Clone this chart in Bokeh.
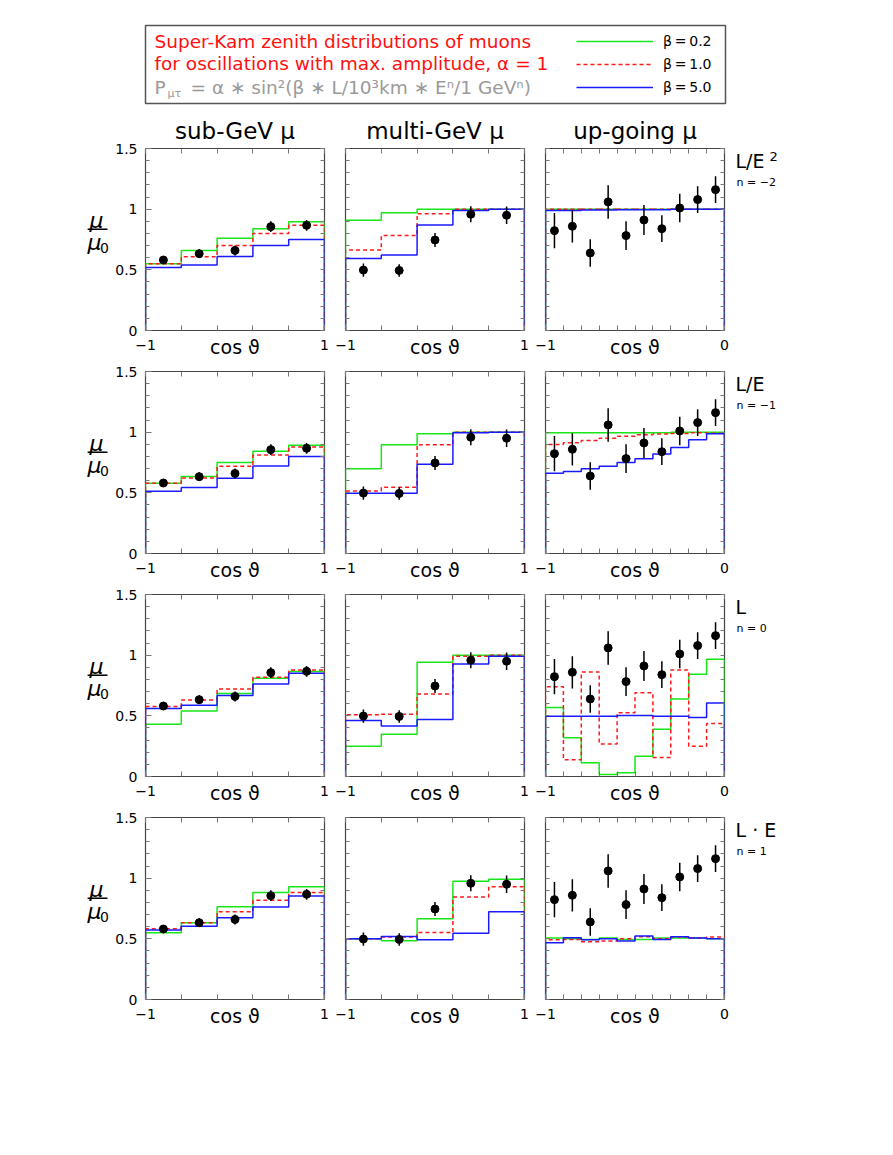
from bokeh.plotting import figure
from bokeh.models import Range1d, FixedTicker, LinearAxis, Label, Legend, LegendItem
from bokeh.layouts import column, row
from bokeh.embed import file_html
from bokeh.resources import INLINE

FONT = "DejaVu Sans"
GREEN = "#19e619"
RED = "#ff1a1a"
BLUE = "#1a1aff"
FRAME = "#444444"
TICK = "#777777"

# ---------------- data ----------------
column_titles = ["sub-GeV μ", "multi-GeV μ", "up-going μ"]
row_labels = ["L/E", "L/E", "L", "L · E"]
row_label_sup = ["2", "", "", ""]
n_labels = ["n = −2", "n = −1", "n = 0", "n = 1"]
legend_labels = ["β\u2009=\u20090.2", "β\u2009=\u20091.0", "β\u2009=\u20095.0"]

edges_5 = [-1.0, -0.6, -0.2, 0.2, 0.6, 1.0]
edges_10 = [-1.0, -0.9, -0.8, -0.7, -0.6, -0.5, -0.4, -0.3, -0.2, -0.1, 0.0]

# measured points (same in every row)
sub_x = [-0.8, -0.4, 0.0, 0.4, 0.8]
sub_y = [0.581, 0.633, 0.660, 0.856, 0.867]
sub_err = [0.031, 0.036, 0.041, 0.045, 0.044]

multi_x = [-0.8, -0.4, 0.0, 0.4, 0.8]
multi_y = [0.498, 0.495, 0.746, 0.958, 0.950]
multi_err = [0.055, 0.052, 0.058, 0.066, 0.073]

up_x = [-0.95, -0.85, -0.75, -0.65, -0.55, -0.45, -0.35, -0.25, -0.15, -0.05]
up_y = [0.823, 0.859, 0.639, 1.060, 0.782, 0.911, 0.839, 1.010, 1.079, 1.161]
up_err = [0.145, 0.133, 0.113, 0.138, 0.118, 0.124, 0.110, 0.117, 0.110, 0.110]

# model histograms, one list per row (n = -2, -1, 0, 1)
sub_green = [[0.550, 0.660, 0.760, 0.839, 0.897],
             [0.580, 0.634, 0.751, 0.842, 0.893],
             [0.431, 0.539, 0.685, 0.809, 0.865],
             [0.550, 0.633, 0.765, 0.881, 0.930]]
sub_red = [[0.550, 0.608, 0.700, 0.800, 0.867],
           [0.579, 0.623, 0.719, 0.811, 0.877],
           [0.577, 0.630, 0.721, 0.818, 0.878],
           [0.583, 0.633, 0.724, 0.817, 0.881]]
sub_blue = [[0.520, 0.540, 0.610, 0.700, 0.751],
            [0.514, 0.544, 0.620, 0.721, 0.800],
            [0.561, 0.588, 0.668, 0.762, 0.851],
            [0.572, 0.603, 0.674, 0.762, 0.853]]

multi_green = [[0.908, 0.971, 0.999, 1.000, 1.000],
               [0.698, 0.896, 0.986, 1.000, 1.000],
               [0.249, 0.348, 0.942, 1.000, 1.000],
               [0.501, 0.484, 0.666, 0.974, 0.991]]
multi_red = [[0.663, 0.782, 0.963, 1.000, 1.000],
             [0.516, 0.547, 0.896, 1.000, 1.000],
             [0.508, 0.514, 0.680, 0.992, 1.000],
             [0.500, 0.515, 0.553, 0.845, 0.930]]
multi_blue = [[0.594, 0.622, 0.870, 0.990, 1.000],
              [0.497, 0.497, 0.736, 0.995, 1.000],
              [0.461, 0.417, 0.470, 0.928, 0.992],
              [0.500, 0.520, 0.493, 0.545, 0.724]]

up_green = [[1.000, 1.000, 1.000, 1.000, 1.000, 1.000, 1.000, 1.000, 1.000, 1.000],
            [0.995, 0.995, 0.995, 0.995, 0.995, 0.995, 0.995, 1.000, 1.000, 1.000],
            [0.569, 0.320, 0.113, 0.017, 0.030, 0.166, 0.390, 0.638, 0.843, 0.967],
            [0.506, 0.500, 0.495, 0.506, 0.495, 0.495, 0.506, 0.506, 0.506, 0.500]]
up_red = [[1.000, 1.000, 1.000, 1.000, 1.000, 1.000, 1.000, 1.000, 1.000, 1.000],
          [0.898, 0.912, 0.931, 0.950, 0.967, 0.978, 0.984, 0.989, 0.995, 0.992],
          [0.740, 0.138, 0.862, 0.268, 0.525, 0.691, 0.157, 0.878, 0.249, 0.436],
          [0.493, 0.495, 0.476, 0.482, 0.500, 0.517, 0.500, 0.515, 0.506, 0.515]]
up_blue = [[0.988, 0.988, 0.993, 0.993, 0.995, 0.995, 0.996, 1.000, 1.000, 1.000],
           [0.662, 0.676, 0.698, 0.720, 0.750, 0.780, 0.821, 0.874, 0.937, 0.986],
           [0.497, 0.497, 0.497, 0.497, 0.502, 0.502, 0.497, 0.497, 0.486, 0.605],
           [0.468, 0.509, 0.493, 0.501, 0.482, 0.523, 0.495, 0.517, 0.506, 0.500]]

y_major = [0.0, 0.5, 1.0, 1.5]
y_minor = [0.0, 0.1, 0.2, 0.3, 0.4, 0.5, 0.6, 0.7, 0.8, 0.9, 1.0, 1.1, 1.2, 1.3, 1.4, 1.5]

FRAME_W, FRAME_H = 179, 182
LEFT_W, RIGHT_W = 110, 60


def hist_path(edges, vals):
    xs, ys = [edges[0]], [0.0]
    for i, v in enumerate(vals):
        xs += [edges[i], edges[i + 1]]
        ys += [v, v]
    xs.append(edges[-1])
    ys.append(0.0)
    return xs, ys


def style_axis(ax, tick_in, minor_in):
    ax.axis_line_color = None
    ax.major_tick_out = 0
    ax.minor_tick_out = 0
    ax.major_tick_in = tick_in
    ax.minor_tick_in = minor_in
    ax.major_tick_line_color = TICK
    ax.minor_tick_line_color = TICK
    ax.major_label_text_font = FONT
    ax.major_label_text_font_size = "14px"
    ax.major_label_text_color = "black"
    ax.axis_label_text_font = FONT
    ax.axis_label_text_font_style = "normal"
    ax.axis_label_text_color = "black"


def lab(p, x, y, text, size, dx=0, dy=0, align="center", baseline="middle", style="normal",
        color="black"):
    p.add_layout(Label(x=x, y=y, x_offset=dx, y_offset=dy, text=text, text_align=align,
                       text_baseline=baseline, text_font=FONT, text_font_size=size,
                       text_font_style=style, text_color=color))


def blank_fig(width, ri, xmax):
    f = figure(frame_width=width, frame_height=FRAME_H,
               x_range=Range1d(0, xmax), y_range=Range1d(0.0, 1.5),
               output_backend="svg", toolbar_location=None, title=None,
               x_axis_location=None, y_axis_location=None,
               min_border_left=0, min_border_right=0,
               min_border_top=40 if ri == 0 else 6, min_border_bottom=35,
               background_fill_color="white", border_fill_color="white",
               outline_line_color=None)
    for g in f.grid:
        g.visible = False
    return f


def left_label_fig(ri):
    f = blank_fig(LEFT_W, ri, LEFT_W)
    lab(f, 96, 0.75, "μ", "22px", dy=19, baseline="alphabetic", style="italic")
    lab(f, 97, 0.75, "—", "22px", dy=12)
    lab(f, 94, 0.75, "μ", "22px", dy=-3, baseline="alphabetic", style="italic")
    lab(f, 104, 0.75, "0", "14px", dy=-8, baseline="alphabetic")
    return f


def right_label_fig(ri):
    f = blank_fig(RIGHT_W, ri, RIGHT_W)
    lab(f, 6, 1.5, row_labels[ri], "19px", dy=-12, align="left")
    if row_label_sup[ri]:
        lab(f, 40, 1.5, row_label_sup[ri], "13px", dy=-8, align="left")
    lab(f, 7, 1.5, n_labels[ri], "11px", dy=-34, align="left")
    return f


def make_panel(ci, ri):
    xmax = 0.0 if ci == 2 else 1.0
    edges = edges_10 if ci == 2 else edges_5
    p = figure(frame_width=FRAME_W, frame_height=FRAME_H,
               x_range=Range1d(-1.0, xmax), y_range=Range1d(0.0, 1.5),
               output_backend="svg", toolbar_location=None, title=None,
               x_axis_location=None, y_axis_location=None,
               min_border_left=[35, 16, 16][ci], min_border_right=5,
               min_border_top=40 if ri == 0 else 6, min_border_bottom=35,
               background_fill_color="white", border_fill_color="white",
               outline_line_color=FRAME, outline_line_width=1.2)
    for g in p.grid:
        g.visible = False

    # bottom axis: end labels + "cos ϑ"
    xb = LinearAxis(ticker=FixedTicker(ticks=[-1.0, xmax], minor_ticks=edges),
                    major_label_overrides={-1.0: "−1", xmax: ("0" if ci == 2 else "1")},
                    axis_label="cos ϑ")
    style_axis(xb, 5, 5)
    xb.major_label_standoff = 9
    xb.axis_label_text_font_size = "19px"
    xb.axis_label_standoff = -17
    # top axis: ticks only (column title on first row)
    xa = LinearAxis(ticker=FixedTicker(ticks=[], minor_ticks=edges))
    style_axis(xa, 5, 5)
    if ri == 0:
        xa.axis_label = column_titles[ci]
        xa.axis_label_text_font_size = "23px"
        xa.axis_label_standoff = 5
    # left axis
    if ci == 0:
        yl = LinearAxis(ticker=FixedTicker(ticks=y_major, minor_ticks=y_minor),
                        major_label_overrides={0.0: "0", 0.5: "0.5", 1.0: "1", 1.5: "1.5"})
        style_axis(yl, 6, 4)
        yl.major_label_standoff = 8
    else:
        yl = LinearAxis(ticker=FixedTicker(ticks=[], minor_ticks=y_minor))
        style_axis(yl, 6, 4)
    yr = LinearAxis(ticker=FixedTicker(ticks=[], minor_ticks=y_minor))
    style_axis(yr, 6, 4)
    p.add_layout(xb, "below")
    p.add_layout(xa, "above")
    p.add_layout(yl, "left")
    p.add_layout(yr, "right")

    g = [sub_green, multi_green, up_green][ci][ri]
    r = [sub_red, multi_red, up_red][ci][ri]
    b = [sub_blue, multi_blue, up_blue][ci][ri]
    for vals, color, dash in ((g, GREEN, "solid"), (r, RED, "4 3"), (b, BLUE, "solid")):
        xs, ys = hist_path(edges, vals)
        p.line(xs, ys, line_color=color, line_width=1.5, line_dash=dash)

    px = [sub_x, multi_x, up_x][ci]
    py = [sub_y, multi_y, up_y][ci]
    pe = [sub_err, multi_err, up_err][ci]
    p.segment(x0=px, y0=[y - e for y, e in zip(py, pe)], x1=px, y1=[y + e for y, e in zip(py, pe)],
              line_color="black", line_width=1.5)
    p.scatter(px, py, size=8, color="black")
    return p


# ---------------- header box ----------------
TOTAL_W = LEFT_W + (35 + FRAME_W + 5) + 2 * (16 + FRAME_W + 5) + RIGHT_W
hdr = figure(frame_width=580, frame_height=78, x_range=Range1d(0, 580), y_range=Range1d(0, 78),
             output_backend="svg", toolbar_location=None, title=None,
             x_axis_location=None, y_axis_location=None,
             min_border_left=145, min_border_right=TOTAL_W - 145 - 580,
             min_border_top=25, min_border_bottom=5,
             background_fill_color="white", border_fill_color="white",
             outline_line_color="#555555", outline_line_width=1.5)
for g_ in hdr.grid:
    g_.visible = False

hdr_lines = ["Super-Kam  zenith distributions of muons",
             "for oscillations with max. amplitude, α = 1"]
for txt, yy in zip(hdr_lines, [62, 40]):
    lab(hdr, 9, yy, txt, "18.5px", align="left", color="#ff1010")
GRAY = "#9a9a9a"
lab(hdr, 9, 16, "P", "18.5px", align="left", color=GRAY)
lab(hdr, 22, 10, "μτ", "11px", align="left", color=GRAY)
lab(hdr, 45, 16, "= α ∗ sin²(β ∗ L/10³km ∗ Eⁿ/1 GeVⁿ)", "18.5px", align="left", color=GRAY)

leg_items = []
for labtxt, color, dash in zip(legend_labels, [GREEN, RED, BLUE], ["solid", "4 3", "solid"]):
    rr = hdr.line(x=[-60, -50], y=[-60, -60], line_color=color, line_width=1.5, line_dash=dash)
    leg_items.append(LegendItem(label=labtxt, renderers=[rr]))
legend = Legend(items=leg_items, location=(431, 6), glyph_width=77, glyph_height=20,
                label_height=20, spacing=3, padding=0, margin=0, label_standoff=10,
                border_line_color=None, background_fill_alpha=0,
                label_text_font=FONT, label_text_font_size="14px", label_text_color="black")
hdr.add_layout(legend, "center")

rows_layout = []
for ri in range(4):
    rows_layout.append(row(left_label_fig(ri), *[make_panel(ci, ri) for ci in range(3)],
                           right_label_fig(ri)))

layout = column(hdr, *rows_layout)

with open("out.html", "w") as f:
    f.write(file_html(layout, INLINE))
